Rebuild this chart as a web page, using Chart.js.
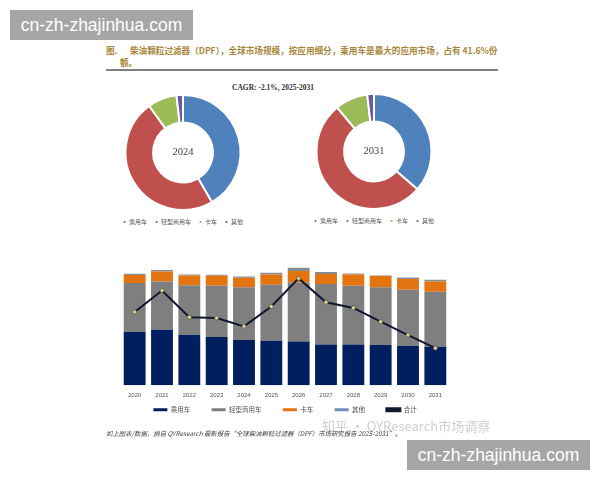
<!DOCTYPE html>
<html>
<head>
<meta charset="utf-8">
<script src="https://cdn.jsdelivr.net/npm/chart.js@4/dist/chart.umd.min.js"></script>
<style>
  html, body { margin: 0; padding: 0; background: #fff; }
  body { width: 600px; height: 480px; position: relative; overflow: hidden; font-family: "Noto Sans CJK SC", serif; }
  canvas { position: absolute; }
  .txt { position: absolute; white-space: nowrap; }
  .banner { position: absolute; width: 183px; height: 30px; background: #a6a6a6; color: #fff; text-align: center; font: 17.5px/30px "Liberation Sans", sans-serif; }
  .title { font-size: 8.6px; line-height: 14px; font-weight: 700; color: #a8873a; }
  #rule { position: absolute; left: 106px; top: 69px; width: 392px; height: 1.5px; background: #808080; }
  #cagr { left: 232px; top: 83px; font: 700 7.5px "Liberation Serif", serif; color: #333; }
  #source { left: 106px; top: 429px; font-size: 6.4px; font-style: italic; color: #444; }
  #mark { left: 322px; top: 416px; font: 13px "Noto Sans CJK SC", sans-serif; color: #cfcfcf; }
</style>
</head>
<body>
<div class="banner" style="left:10px;top:10px">cn-zh-zhajinhua.com</div>
<div class="txt title" style="left:106px;top:43px">图.</div>
<div class="txt title" style="left:130px;top:43px">柴油颗粒过滤器（DPF），全球市场规模，按应用细分，乘用车是最大的应用市场，占有 41.6%份</div>
<div class="txt title" style="left:120px;top:55px">额。</div>
<div id="rule"></div>
<div class="txt" id="cagr">CAGR: -2.1%, 2025-2031</div>
<canvas id="pie2024" style="left:98px;top:94px"></canvas>
<canvas id="pie2031" style="left:289px;top:93px"></canvas>
<canvas id="bars" style="left:100px;top:262px"></canvas>
<div class="txt" id="mark">知乎 · QYResearch市场调察</div>
<div class="txt" id="source">如上图表/数据，摘自 QYResearch 最新报告“全球柴油颗粒过滤器（DPF）市场研究报告 2025-2031”。</div>
<div class="banner" style="left:407px;top:440px">cn-zh-zhajinhua.com</div>

<script>
const pieLabels = ["乘用车", "轻型商用车", "卡车", "其他"];
const pieColors = ["#4f81bd", "#c0504d", "#9bbb59", "#6a5a9c"];
const share2024 = [41.6, 48.4, 8.2, 1.8];
const share2031 = [36.4, 52.5, 9.2, 1.9];

const years = ["2020", "2021", "2022", "2023", "2024", "2025", "2026", "2027", "2028", "2029", "2030", "2031"];
const passenger = [159, 166, 151, 144, 135, 133, 131, 122, 122, 120, 117, 115];
const lightComm = [146, 144, 148, 153, 158, 167, 176, 180, 175, 173, 168, 164];
const trucks = [24, 30, 29, 30, 28, 31, 34, 30, 34, 33, 32, 31];
const others = [4, 4, 3, 3, 4, 5, 10, 6, 3, 2, 5, 5];
const totals = [219, 283, 203, 201, 176, 235, 319, 248, 231, 190, 150, 111];

const fontCJK = "'Noto Sans CJK SC', sans-serif";

// writes the year in the hole of the donut
const centerText = {
  id: "centerText",
  afterDraw(chart, args, opts) {
    const arc = chart.getDatasetMeta(0).data[0];
    const ctx = chart.ctx;
    ctx.save();
    ctx.font = "10.5px 'Liberation Serif', serif";
    ctx.fillStyle = "#444";
    ctx.textAlign = "center";
    ctx.textBaseline = "middle";
    ctx.fillText(opts.text, arc.x, arc.y);
    ctx.restore();
  },
};

function sizeCanvas(el, w, h) {
  el.width = w;
  el.height = h;
  el.style.width = w + "px";
  el.style.height = h + "px";
}

function makePie(id, values, year) {
  const el = document.getElementById(id);
  sizeCanvas(el, 170, 141);
  new Chart(el, {
    type: "doughnut",
    data: {
      labels: pieLabels,
      datasets: [{ data: values, backgroundColor: pieColors, borderColor: "#fff", borderWidth: 2 }],
    },
    options: {
      responsive: false,
      animation: false,
      cutout: "52%",
      plugins: {
        tooltip: { enabled: false },
        centerText: { text: year },
        legend: {
          position: "bottom",
          labels: {
            color: "#555",
            font: { size: 6, family: fontCJK },
            usePointStyle: true,
            pointStyle: "circle",
            boxWidth: 3,
            boxHeight: 3,
            padding: 8,
          },
        },
      },
    },
    plugins: [centerText],
  });
}

makePie("pie2024", share2024, "2024");
makePie("pie2031", share2031, "2031");

const barsEl = document.getElementById("bars");
sizeCanvas(barsEl, 360, 161);

new Chart(barsEl, {
  type: "bar",
  data: {
    labels: years,
    datasets: [
      { type: "line", label: "合计", data: totals, yAxisID: "y1", borderColor: "#10182f", backgroundColor: "#e8d58a", borderWidth: 2, pointRadius: 2, pointBorderWidth: 0.7, pointBorderColor: "#555", tension: 0, order: 0 },
      { label: "乘用车", data: passenger, backgroundColor: "#001f5f", order: 1 },
      { label: "轻型商用车", data: lightComm, backgroundColor: "#7f7f7f", order: 2 },
      { label: "卡车", data: trucks, backgroundColor: "#e3740f", order: 3 },
      { label: "其他", data: others, backgroundColor: "#858b93", order: 4 },
    ],
  },
  options: {
    responsive: false,
    animation: false,
    layout: { padding: { left: 21, right: 11, top: 0, bottom: 0 } },
    datasets: { bar: { barPercentage: 0.8, categoryPercentage: 1 } },
    scales: {
      x: {
        stacked: true,
        grid: { display: false, drawTicks: false },
        border: { display: false },
        ticks: { color: "#555", font: { size: 6, family: "'Liberation Sans', sans-serif" }, padding: 6, maxRotation: 0 },
      },
      y: { stacked: true, display: false, min: 0, max: 354 },
      y1: { display: false, min: 0, max: 354 },
    },
    plugins: {
      tooltip: { enabled: false },
      legend: {
        position: "bottom",
        labels: {
          color: "#555",
          font: { size: 6.5, family: fontCJK },
          boxWidth: 14,
          boxHeight: 3,
          padding: 2,
          // legend padding also sets its height, so the wide gaps come from trailing spaces
          generateLabels(chart) {
            const items = Chart.defaults.plugins.legend.labels.generateLabels(chart);
            const line = items.find((it) => it.text === "合计");
            const rest = items.filter((it) => it !== line);
            rest.forEach((it) => {
              it.text += "　　　";
              if (it.text.startsWith("其他")) it.fillStyle = "#6f8fb8";
            });
            line.fillStyle = "#10182f";
            return [...rest, line];
          },
        },
      },
    },
  },
});
</script>
</body>
</html>
